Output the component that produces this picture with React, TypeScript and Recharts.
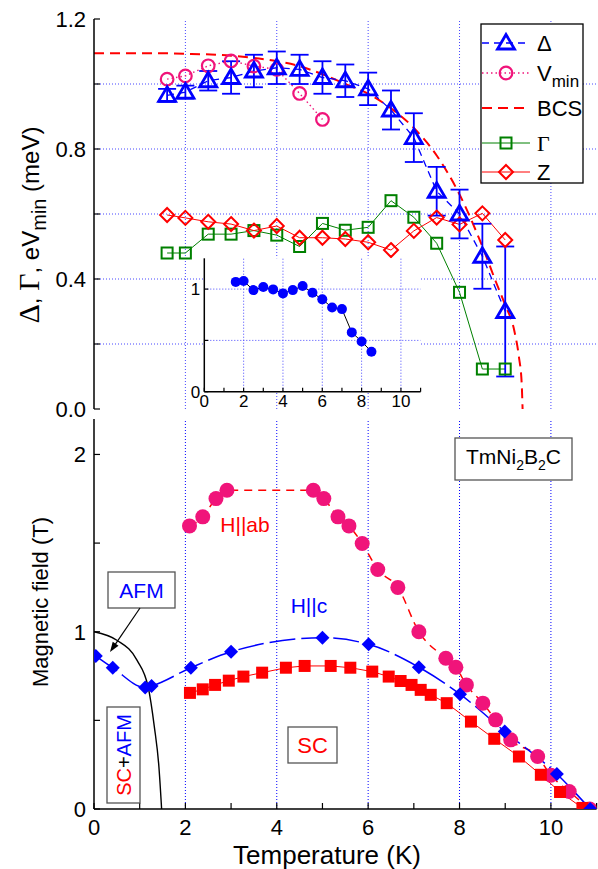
import React from "react";
import {
  ComposedChart,
  ErrorBar,
  Line,
  ReferenceArea,
  ReferenceLine,
  XAxis,
  YAxis,
} from "recharts";

const FONT = '"Liberation Sans", Arial, Helvetica, sans-serif';
const SERIF = '"Liberation Serif", "Times New Roman", serif';
const BLUE = "#0000ff";
const RED = "#ff0000";
const PINK = "#f0147a";
const GREEN = "#008000";
const GRID = "#4646ff";

// ---- top panel: gap, Vmin, BCS, Gamma, Z vs temperature
const gapT = [1.6, 2, 2.5, 3, 3.5, 4, 4.5, 5, 5.5, 6, 6.5, 7, 7.5, 8, 8.5, 9];
const gapVal = [0.965, 0.975, 1.01, 1.02, 1.04, 1.05, 1.045, 1.02, 1.01, 0.985, 0.92, 0.835, 0.67, 0.6, 0.47, 0.3];
const gapErr = [0.02, 0.02, 0.03, 0.05, 0.05, 0.05, 0.045, 0.05, 0.05, 0.05, 0.06, 0.075, 0.075, 0.075, 0.1, 0.2];

const vminT = [1.6, 2, 2.5, 3, 3.5, 4, 4.5, 5];
const vminVal = [1.015, 1.025, 1.056, 1.071, 1.055, 1.045, 0.971, 0.891];

const bcsT = [0, 1, 2, 3, 4, 4.5, 5, 5.5, 6, 6.5, 7, 7.5, 8, 8.5, 8.8, 9, 9.2, 9.3, 9.36, 9.38];
const bcsVal = [1.095, 1.095, 1.093, 1.087, 1.07, 1.055, 1.03, 1.0, 0.97, 0.925, 0.865, 0.78, 0.66, 0.5, 0.39, 0.32, 0.24, 0.16, 0.08, 0.0];

const gammaT = [1.6, 2, 2.5, 3, 3.5, 4, 4.5, 5, 5.5, 6, 6.5, 7, 7.5, 8, 8.5, 9];
const gammaVal = [0.48, 0.48, 0.538, 0.538, 0.549, 0.535, 0.5, 0.571, 0.55, 0.559, 0.641, 0.59, 0.51, 0.359, 0.123, 0.123];

const zT = [1.6, 2, 2.5, 3, 3.5, 4, 4.5, 5, 5.5, 6, 6.5, 7, 7.5, 8, 8.5, 9];
const zVal = [0.597, 0.588, 0.576, 0.569, 0.549, 0.563, 0.527, 0.527, 0.523, 0.513, 0.489, 0.548, 0.589, 0.568, 0.602, 0.52];

// inset
const insetT = [1.6, 2, 2.5, 3, 3.5, 4, 4.5, 5, 5.5, 6, 6.5, 7, 7.5, 8, 8.5];
const insetVal = [1.07, 1.078, 0.99, 1.02, 0.997, 0.958, 0.99, 1.03, 0.964, 0.9, 0.82, 0.805, 0.578, 0.49, 0.39];

// ---- bottom panel: phase diagram
const habT = [2.09, 2.38, 2.67, 2.91, 4.8, 5.03, 5.34, 5.58, 5.87, 6.21, 6.65, 7.11, 7.7, 7.92, 8.15, 8.51, 8.79, 9.12, 9.71, 10.0, 10.4, 10.85];
const habVal = [1.597, 1.648, 1.751, 1.798, 1.798, 1.751, 1.648, 1.597, 1.498, 1.351, 1.25, 1.0, 0.85, 0.8, 0.7, 0.597, 0.503, 0.39, 0.296, 0.19, 0.099, 0.0];

const hcT = [0.04, 0.41, 1.12, 1.26, 2.12, 3.0, 5.0, 6.01, 7.11, 8.01, 8.99, 10.13, 10.86];
const hcVal = [0.863, 0.797, 0.685, 0.694, 0.797, 0.887, 0.966, 0.929, 0.8, 0.648, 0.437, 0.197, 0.0];

const scT = [2.1, 2.38, 2.65, 2.95, 3.27, 3.68, 4.2, 4.61, 5.18, 5.61, 6.09, 6.45, 6.71, 6.95, 7.15, 7.37, 7.72, 8.25, 8.76, 9.3, 9.78, 10.2, 10.69];
const scVal = [0.655, 0.675, 0.7, 0.724, 0.747, 0.769, 0.797, 0.807, 0.807, 0.797, 0.775, 0.747, 0.722, 0.7, 0.672, 0.644, 0.597, 0.493, 0.396, 0.296, 0.193, 0.096, 0.006];

const afmT = [0, 0.5, 0.94, 1.19, 1.32, 1.42, 1.48];
const afmVal = [1.0, 0.952, 0.84, 0.683, 0.465, 0.24, 0.0];

// ticks and grid
const xTicks = [0, 1, 2, 3, 4, 5, 6, 7, 8, 9, 10, 11];
const gridX = [2, 4, 6, 8, 10];
const topYTicks = [0, 0.2, 0.4, 0.6, 0.8, 1.0, 1.2];
const topYLabels = [0, 0.4, 0.8, 1.2];
const topGridY = [0.2, 0.4, 0.6, 0.8, 1.0];
const botYTicks = [0, 0.5, 1, 1.5, 2];
const insetYTicks = [0, 0.5, 1];
const insetGridY = [0.5, 1];

const zip = (t: number[], v: number[], e?: number[]) =>
  t.map((x, i) => (e ? { t: x, v: v[i], err: e[i] } : { t: x, v: v[i] }));

type DotProps = { cx?: number; cy?: number; index?: number };

const openTriangle = ({ cx, cy, index }: DotProps) =>
  cx == null || cy == null ? (
    <g key={index} />
  ) : (
    <polygon
      key={index}
      points={`${cx},${cy - 8.5} ${cx - 8.5},${cy + 6} ${cx + 8.5},${cy + 6}`}
      fill="none"
      stroke={BLUE}
      strokeWidth={2.8}
    />
  );

const openCircle = ({ cx, cy, index }: DotProps) => (
  <circle key={index} cx={cx} cy={cy} r={6.3} fill="none" stroke={PINK} strokeWidth={2.2} />
);

const openSquare = ({ cx, cy, index }: DotProps) =>
  cx == null || cy == null ? (
    <g key={index} />
  ) : (
    <rect key={index} x={cx - 5.5} y={cy - 5.5} width={11} height={11} fill="none" stroke={GREEN} strokeWidth={2} />
  );

const openDiamond = ({ cx, cy, index }: DotProps) =>
  cx == null || cy == null ? (
    <g key={index} />
  ) : (
    <polygon
      key={index}
      points={`${cx},${cy - 7} ${cx + 7},${cy} ${cx},${cy + 7} ${cx - 7},${cy}`}
      fill="none"
      stroke={RED}
      strokeWidth={2}
    />
  );

const pinkDisk = ({ cx, cy, index }: DotProps) => <circle key={index} cx={cx} cy={cy} r={7.5} fill={PINK} />;

const blueDiamond = ({ cx, cy, index }: DotProps) =>
  cx == null || cy == null ? (
    <g key={index} />
  ) : (
    <polygon key={index} points={`${cx},${cy - 7} ${cx + 7},${cy} ${cx},${cy + 7} ${cx - 7},${cy}`} fill={BLUE} />
  );

const redSquare = ({ cx, cy, index }: DotProps) =>
  cx == null || cy == null ? (
    <g key={index} />
  ) : (
    <rect key={index} x={cx - 6} y={cy - 6} width={12} height={12} fill={RED} />
  );

const insetDot = ({ cx, cy, index }: DotProps) => <circle key={index} cx={cx} cy={cy} r={5} fill={BLUE} />;

const tickStyle = { fontSize: 22, fill: "#000", fontFamily: FONT };
const axisLineStyle = { stroke: "#000", strokeWidth: 1.5 };
const tickLineStyle = { stroke: "#000", strokeWidth: 1.2 };
const evenLabel = (v: number) => (v % 2 === 0 ? String(v) : "");

function TopPanel() {
  return (
    <ComposedChart width={598} height={432} margin={{ top: 19, right: 1.4, bottom: 23, left: 0 }}>
      <XAxis dataKey="t" type="number" domain={[0, 11]} ticks={xTicks} interval={0} allowDataOverflow
        height={0} tick={false} tickSize={-6} axisLine={axisLineStyle} tickLine={tickLineStyle} />
      <XAxis xAxisId="top" orientation="top" dataKey="t" type="number" domain={[0, 11]} ticks={xTicks}
        interval={0} height={0} tick={false} tickSize={-6} axisLine={axisLineStyle} tickLine={tickLineStyle} />
      <YAxis type="number" domain={[0, 1.2]} ticks={topYTicks} interval={0} width={94} allowDataOverflow
        tickSize={-6} tickMargin={14} tick={tickStyle} axisLine={axisLineStyle} tickLine={tickLineStyle}
        tickFormatter={(v: number) => (topYLabels.includes(v) ? v.toFixed(1) : "")} />
      <YAxis yAxisId="right" orientation="right" type="number" domain={[0, 1.2]} ticks={topYTicks}
        interval={0} width={0} tick={false} tickSize={-6} axisLine={axisLineStyle} tickLine={tickLineStyle} />

      {gridX.map((x) => (
        <ReferenceLine key={`gx${x}`} x={x} stroke={GRID} strokeDasharray="1 2" />
      ))}
      {topGridY.map((y) => (
        <ReferenceLine key={`gy${y}`} y={y} stroke={GRID} strokeDasharray="1 2" />
      ))}

      <Line data={zip(bcsT, bcsVal)} dataKey="v" type="monotone" stroke={RED} strokeWidth={2}
        strokeDasharray="10 6" dot={false} activeDot={false} isAnimationActive={false} />
      <Line data={zip(gammaT, gammaVal)} dataKey="v" type="linear" stroke={GREEN} strokeWidth={1}
        dot={openSquare} activeDot={false} isAnimationActive={false} />
      <Line data={zip(zT, zVal)} dataKey="v" type="linear" stroke={RED} strokeWidth={1}
        dot={openDiamond} activeDot={false} isAnimationActive={false} />
      <Line data={zip(vminT, vminVal)} dataKey="v" type="linear" stroke={PINK} strokeWidth={1.4}
        strokeDasharray="1.5 3" dot={openCircle} activeDot={false} isAnimationActive={false} />
      <Line data={zip(gapT, gapVal, gapErr)} dataKey="v" type="linear" stroke={BLUE} strokeWidth={1.3}
        strokeDasharray="7 5" dot={openTriangle} activeDot={false} isAnimationActive={false}>
        <ErrorBar dataKey="err" direction="y" width={9} stroke={BLUE} strokeWidth={1.8} />
      </Line>
    </ComposedChart>
  );
}

function InsetPanel() {
  const small = { fontSize: 17, fill: "#000", fontFamily: FONT };
  return (
    <ComposedChart width={290} height={170} margin={{ top: 10.3, right: 19.4, bottom: 0, left: 0 }}>
      <XAxis dataKey="t" type="number" domain={[0, 11]} ticks={xTicks} interval={0} allowDataOverflow
        height={26.3} tick={small} tickSize={-4} tickMargin={7} tickFormatter={evenLabel}
        axisLine={axisLineStyle} tickLine={tickLineStyle} />
      <XAxis xAxisId="top" orientation="top" dataKey="t" type="number" domain={[0, 11]} ticks={xTicks}
        interval={0} height={0} tick={false} tickSize={-4} axisLine={axisLineStyle} tickLine={tickLineStyle} />
      <YAxis type="number" domain={[0, 1.3]} ticks={insetYTicks} interval={0} width={54.3} allowDataOverflow
        tickSize={-4} tickMargin={8} tick={small} axisLine={axisLineStyle} tickLine={tickLineStyle}
        tickFormatter={(v: number) => (Number.isInteger(v) ? String(v) : "")} />
      <YAxis yAxisId="right" orientation="right" type="number" domain={[0, 1.3]} ticks={insetYTicks}
        interval={0} width={0} tick={false} tickSize={-4} axisLine={axisLineStyle} tickLine={tickLineStyle} />

      <ReferenceArea x1={0} x2={11} y1={0} y2={1.3} fill="#fff" fillOpacity={1} stroke="none" />
      {gridX.map((x) => (
        <ReferenceLine key={`ix${x}`} x={x} stroke={GRID} strokeDasharray="1 2" />
      ))}
      {insetGridY.map((y) => (
        <ReferenceLine key={`iy${y}`} y={y} stroke={GRID} strokeDasharray="1 2" />
      ))}

      <Line data={zip(insetT, insetVal)} dataKey="v" type="linear" stroke="#000" strokeWidth={1}
        dot={insetDot} activeDot={false} isAnimationActive={false} />
    </ComposedChart>
  );
}

function BottomPanel() {
  return (
    <ComposedChart width={598} height={459} margin={{ top: 9, right: 1.4, bottom: 0, left: 0 }}>
      <XAxis dataKey="t" type="number" domain={[0, 11]} ticks={xTicks} interval={0} allowDataOverflow
        height={60} tick={tickStyle} tickSize={-6} tickMargin={16} tickFormatter={evenLabel}
        axisLine={axisLineStyle} tickLine={tickLineStyle} />
      <XAxis xAxisId="top" orientation="top" dataKey="t" type="number" domain={[0, 11]} ticks={xTicks}
        interval={0} height={0} tick={false} tickSize={-6} axisLine={axisLineStyle} tickLine={tickLineStyle} />
      <YAxis type="number" domain={[0, 2.2]} ticks={botYTicks} interval={0} width={94} allowDataOverflow
        tickSize={-6} tickMargin={14} tick={tickStyle} axisLine={axisLineStyle} tickLine={tickLineStyle}
        tickFormatter={(v: number) => (Number.isInteger(v) ? String(v) : "")} />
      <YAxis yAxisId="right" orientation="right" type="number" domain={[0, 2.2]} ticks={botYTicks}
        interval={0} width={0} tick={false} tickSize={-6} axisLine={axisLineStyle} tickLine={tickLineStyle} />

      {gridX.map((x) => (
        <ReferenceLine key={`bx${x}`} x={x} stroke={BLUE} strokeDasharray="1 2" />
      ))}

      <Line data={zip(afmT, afmVal)} dataKey="v" type="monotone" stroke="#000" strokeWidth={1.4}
        dot={false} activeDot={false} isAnimationActive={false} />
      <Line data={zip(habT, habVal)} dataKey="v" type="monotone" stroke={RED} strokeWidth={1.5}
        strokeDasharray="8 6" dot={pinkDisk} activeDot={false} isAnimationActive={false} />
      <Line data={zip(scT, scVal)} dataKey="v" type="linear" stroke={RED} strokeWidth={1}
        dot={redSquare} activeDot={false} isAnimationActive={false} />
      <Line data={zip(hcT, hcVal)} dataKey="v" type="monotone" stroke={BLUE} strokeWidth={1.5}
        strokeDasharray="26 6" dot={blueDiamond} activeDot={false} isAnimationActive={false} />
    </ComposedChart>
  );
}

const legendRows = [
  { key: "gap", y: 43, color: BLUE, dash: "7 5", width: 1.3 },
  { key: "vmin", y: 73, color: PINK, dash: "1.5 3", width: 1.4 },
  { key: "bcs", y: 108, color: RED, dash: "10 6", width: 2 },
  { key: "gamma", y: 143, color: GREEN, dash: undefined, width: 1 },
  { key: "z", y: 172, color: RED, dash: undefined, width: 1 },
];

function LegendMarker({ kind, cx, cy }: { kind: string; cx: number; cy: number }) {
  if (kind === "gap") return openTriangle({ cx, cy });
  if (kind === "vmin") return openCircle({ cx, cy });
  if (kind === "gamma") return openSquare({ cx, cy });
  if (kind === "z") return openDiamond({ cx, cy });
  return null;
}

function Overlay() {
  const ax = 140, ay = 608, bx = 110, by = 652;
  const len = Math.hypot(bx - ax, by - ay);
  const ux = (bx - ax) / len, uy = (by - ay) / len;
  const head = `${bx},${by} ${bx - 10 * ux + 3.5 * uy},${by - 10 * uy - 3.5 * ux} ${bx - 10 * ux - 3.5 * uy},${by - 10 * uy + 3.5 * ux}`;
  return (
    <svg width={598} height={869} style={{ position: "absolute", left: 0, top: 0, pointerEvents: "none" }}
      fontFamily={FONT}>
      {/* legend */}
      <rect x={481} y={24} width={102} height={159} fill="#fff" stroke="#000" strokeWidth={1.3} />
      {legendRows.map((r) => (
        <g key={r.key}>
          <line x1={482} x2={530} y1={r.y} y2={r.y} stroke={r.color} strokeWidth={r.width} strokeDasharray={r.dash} />
          <LegendMarker kind={r.key} cx={506} cy={r.y} />
        </g>
      ))}
      <text x={537} y={51} fontSize={22}>Δ</text>
      <text x={537} y={81} fontSize={22}>V<tspan fontSize={17} dy={6}>min</tspan></text>
      <text x={537} y={116} fontSize={22}>BCS</text>
      <text x={537} y={151} fontSize={22} fontFamily={SERIF}>Γ</text>
      <text x={537} y={180} fontSize={22}>Z</text>

      {/* axis titles */}
      <text transform="rotate(-90 39 225)" x={39} y={225} textAnchor="middle" fontSize={24}>
        <tspan fontFamily={SERIF} fontSize={30}>Δ</tspan>
        {", "}
        <tspan fontFamily={SERIF} fontSize={30}>Γ</tspan>
        {", eV"}
        <tspan fontSize={20} dy={7}>min</tspan>
        <tspan dy={-7}>{" (meV)"}</tspan>
      </text>
      <text transform="rotate(-90 48 602)" x={48} y={602} textAnchor="middle" fontSize={22}>
        Magnetic field (T)
      </text>
      <text x={327} y={864} textAnchor="middle" fontSize={26}>Temperature (K)</text>

      {/* annotations */}
      <rect x={455} y={438} width={117} height={42} fill="#fff" stroke="#555" strokeWidth={1.3} />
      <text x={513.5} y={464} textAnchor="middle" fontSize={21}>
        TmNi<tspan fontSize={14} dy={6}>2</tspan>
        <tspan dy={-6}>B</tspan>
        <tspan fontSize={14} dy={6}>2</tspan>
        <tspan dy={-6}>C</tspan>
      </text>
      <text x={245} y={532} textAnchor="middle" fontSize={21} fill={RED}>H||ab</text>
      <text x={309} y={613} textAnchor="middle" fontSize={21} fill={BLUE}>H||c</text>

      <rect x={108} y={572} width={67} height={36} fill="#fff" stroke="#555" strokeWidth={1.3} />
      <text x={141.5} y={598} textAnchor="middle" fontSize={21} fill={BLUE}>AFM</text>
      <line x1={ax} y1={ay} x2={bx - 6 * ux} y2={by - 6 * uy} stroke="#000" strokeWidth={1.2} />
      <polygon points={head} fill="#000" />

      <rect x={107} y={707} width={33} height={96} fill="#fff" stroke="#555" strokeWidth={1.3} />
      <text transform="rotate(-90 131 755)" x={131} y={755} textAnchor="middle" fontSize={20}>
        <tspan fill={RED}>SC</tspan>
        <tspan fill="#000">+</tspan>
        <tspan fill={BLUE}>AFM</tspan>
      </text>

      <rect x={288} y={727} width={49} height={36} fill="#fff" stroke="#555" strokeWidth={1.3} />
      <text x={312.5} y={753} textAnchor="middle" fontSize={22} fill={RED}>SC</text>
    </svg>
  );
}

export default function App() {
  return (
    <div style={{ position: "absolute", left: 0, top: 0, width: 598, height: 869, background: "#fff", fontFamily: FONT }}>
      <div style={{ position: "absolute", left: 0, top: 0 }}>
        <TopPanel />
      </div>
      <div style={{ position: "absolute", left: 0, top: 410 }}>
        <BottomPanel />
      </div>
      <div style={{ position: "absolute", left: 150, top: 248 }}>
        <InsetPanel />
      </div>
      <Overlay />
    </div>
  );
}
